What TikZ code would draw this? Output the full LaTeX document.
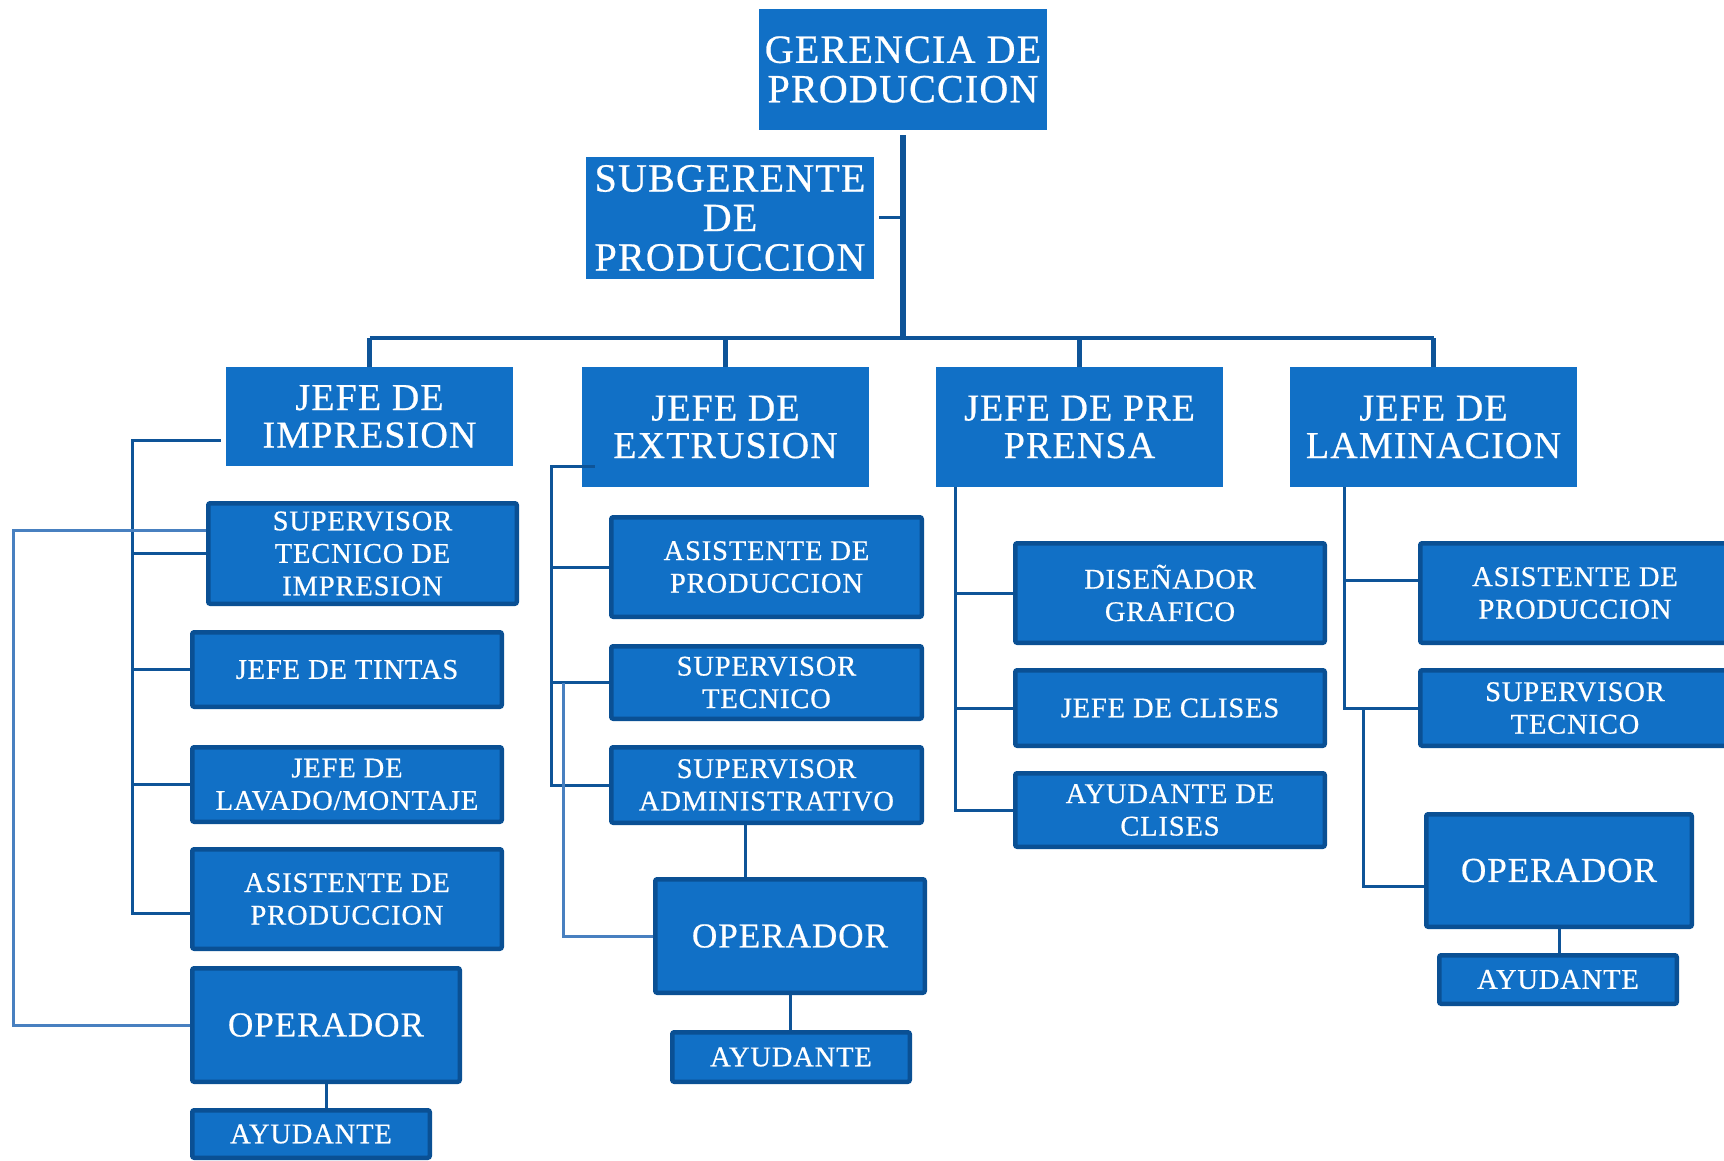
\documentclass[tikz,border=0pt]{standalone}
\usepackage{fontspec}
\setmainfont{Liberation Serif}
\newfontfamily\orgfont{Liberation Serif}[LetterSpace=3,FakeBold=0.6]
\usetikzlibrary{calc}

\definecolor{boxfill}{RGB}{17,112,198}
\definecolor{boxedge}{RGB}{10,80,148}
\definecolor{wire}{RGB}{14,84,152}
\definecolor{wirelight}{RGB}{72,128,192}

\tikzset{
  head/.style={fill=boxfill, text=white, align=center, inner sep=0pt,
    font=\orgfont\fontsize{40}{39.5}\selectfont},
  chief/.style={head, font=\orgfont\fontsize{38}{37.5}\selectfont},
  unit/.style={fill=boxfill, draw=boxedge, line width=4.5pt, rounded corners=2pt,
    text=white, align=center, inner sep=0pt,
    font=\orgfont\fontsize{28.5}{32.5}\selectfont},
  oper/.style={unit, font=\orgfont\fontsize{35}{36}\selectfont},
  hsz/.style 2 args={minimum width=#1pt, minimum height=#2pt},
  usz/.style 2 args={minimum width={#1pt-4.5pt}, minimum height={#2pt-4.5pt}},
  wireline/.style={draw=wire, line width=3pt},
  wirepale/.style={draw=wirelight, line width=3pt},
  busline/.style={draw=wire, line width=4.5pt},
  trunkline/.style={draw=wire, line width=6pt},
}

\begin{document}
\begin{tikzpicture}[x=1pt, y=-1pt]
\useasboundingbox (0,0) rectangle (1724,1161);
\fill[white] (0,0) rectangle (1724,1161);
\clip (0,0) rectangle (1724,1161);

% management
\node[head, hsz={288}{121}] (ger) at (903,69.5) {GERENCIA DE\\PRODUCCION};
\node[head, hsz={288}{122}] (sub) at (730,218) {SUBGERENTE\\DE\\PRODUCCION};

% department heads
\node[chief, hsz={287}{99}]  (jImp) at (369.5,416.5) {JEFE DE\\IMPRESION};
\node[chief, hsz={287}{120}] (jExt) at (725.5,427) {JEFE DE\\EXTRUSION};
\node[chief, hsz={287}{120}] (jPre) at (1079.5,427) {JEFE DE PRE\\PRENSA};
\node[chief, hsz={287}{120}] (jLam) at (1433.5,427) {JEFE DE\\LAMINACION};

% printing
\node[unit, usz={313}{105}] (supImp) at (362.5,553.5) {SUPERVISOR\\TECNICO DE\\IMPRESION};
\node[unit, usz={314}{79}]  (tintas) at (347,669.5) {JEFE DE TINTAS};
\node[unit, usz={314}{79}]  (lavado) at (347,784.5) {JEFE DE\\LAVADO/MONTAJE};
\node[unit, usz={314}{104}] (asiImp) at (347,899) {ASISTENTE DE\\PRODUCCION};
\node[oper, usz={272}{118}] (opImp)  at (326,1025) {OPERADOR};
\node[unit, usz={242}{52}]  (ayImp)  at (311,1134) {AYUDANTE};

% extrusion
\node[unit, usz={315}{104}] (asiExt)    at (766.5,567) {ASISTENTE DE\\PRODUCCION};
\node[unit, usz={315}{77}]  (supTecExt) at (766.5,682.5) {SUPERVISOR\\TECNICO};
\node[unit, usz={315}{80}]  (supAdm)    at (766.5,785) {SUPERVISOR\\ADMINISTRATIVO};
\node[oper, usz={274}{118}] (opExt)     at (790,936) {OPERADOR};
\node[unit, usz={242}{54}]  (ayExt)     at (791,1057) {AYUDANTE};

% prepress
\node[unit, usz={314}{104}] (dis)    at (1170,593) {DISEÑADOR\\GRAFICO};
\node[unit, usz={314}{80}]  (jClis)  at (1170,708) {JEFE DE CLISES};
\node[unit, usz={314}{78}]  (ayClis) at (1170,810) {AYUDANTE DE\\CLISES};

% lamination
\node[unit, usz={314}{104}] (asiLam)    at (1575,593) {ASISTENTE DE\\PRODUCCION};
\node[unit, usz={314}{80}]  (supTecLam) at (1575,708) {SUPERVISOR\\TECNICO};
\node[oper, usz={270}{117}] (opLam)     at (1559,870.5) {OPERADOR};
\node[unit, usz={242}{53}]  (ayLam)     at (1558,979.5) {AYUDANTE};

% trunk and bus
\coordinate (bus) at (903,338);
\draw[trunkline] ([yshift=-5pt]ger.south) -- (bus);
\draw[wireline] ([xshift=5pt]sub.east) -- (sub.east -| bus);
\draw[busline] (jImp.north |- bus) -- (jLam.north |- bus);
\foreach \j in {jImp,jExt,jPre,jLam}
  \draw[busline] (\j.north |- bus) -- (\j.north);

% printing connectors
\coordinate (sImp) at (132,0);
\coordinate (sOut) at (13,0);
\coordinate (a1) at ([yshift=-23.5pt,xshift=-5pt]jImp.west);
\coordinate (a2) at ([yshift=-14pt]asiImp.west);
\draw[wireline] (a1) -- (sImp |- a1) -- (sImp |- a2) -- (a2);
\foreach \n in {supImp,tintas,lavado}
  \draw[wireline] (sImp |- \n.west) -- (\n.west);
\coordinate (o1) at ([yshift=23.5pt]supImp.west);
\draw[wirepale] (o1) -- (sOut |- o1) -- (sOut |- opImp.west) -- (opImp.west);
\draw[wireline] (opImp.south) -- (opImp.south |- ayImp.north);

% extrusion connectors
\coordinate (sExt) at (551,0);
\coordinate (sExtB) at (563,0);
\coordinate (e1) at ([yshift=-39pt]jExt.west);
\draw[wireline] ([xshift=13pt]e1) -- (sExt |- e1) -- (sExt |- supAdm.west) -- (supAdm.west);
\foreach \n in {asiExt,supTecExt}
  \draw[wireline] (sExt |- \n.west) -- (\n.west);
\draw[wirepale] (sExtB |- supTecExt.west) -- (sExtB |- opExt.west) -- (opExt.west);
\draw[wireline] ([xshift=-21.5pt]supAdm.south) -- ([xshift=-21.5pt]supAdm.south |- opExt.north);
\draw[wireline] (opExt.south) -- (opExt.south |- ayExt.north);

% prepress connectors
\coordinate (sPre) at (955,0);
\draw[wireline] (sPre |- jPre.south) -- (sPre |- ayClis.west) -- (ayClis.west);
\foreach \n in {dis,jClis}
  \draw[wireline] (sPre |- \n.west) -- (\n.west);

% lamination connectors
\coordinate (sLam) at (1344,0);
\coordinate (sLamB) at (1363,0);
\coordinate (l1) at ([yshift=12.5pt]asiLam.west);
\coordinate (l2) at ([yshift=-15.5pt]opLam.west);
\draw[wireline] (sLam |- jLam.south) -- (sLam |- supTecLam.west) -- (supTecLam.west);
\draw[wireline] (sLam |- l1) -- (l1);
\draw[wireline] (sLamB |- supTecLam.west) -- (sLamB |- l2) -- (l2);
\draw[wireline] (opLam.south) -- (opLam.south |- ayLam.north);
\end{tikzpicture}
\end{document}
